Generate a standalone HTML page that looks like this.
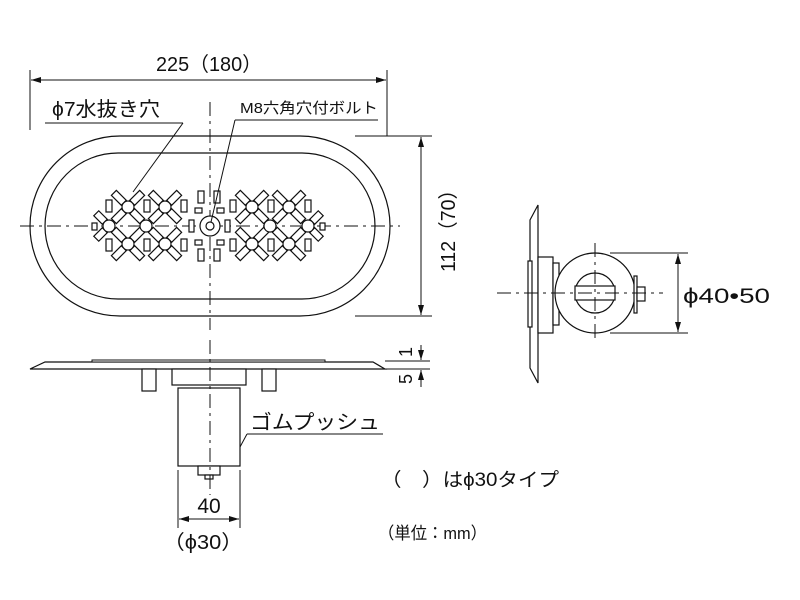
<!DOCTYPE html>
<html><head><meta charset="utf-8"><style>
html,body{margin:0;padding:0;background:#fff;}
svg{display:block;}
text{font-family:"Liberation Sans","Noto Sans CJK JP",sans-serif;fill:#111;}
</style></head><body>
<svg width="800" height="600" viewBox="0 0 800 600" xmlns="http://www.w3.org/2000/svg">
<defs>
<marker id="a" markerWidth="10" markerHeight="6" refX="10" refY="3" orient="auto-start-reverse" markerUnits="userSpaceOnUse"><path d="M0,0 L10,3 L0,6 Z" fill="#111"/></marker>
<g id="x">
<circle r="6" fill="#fff" stroke="#111" stroke-width="1.2"/>
<g fill="#fff" stroke="#111" stroke-width="1.2">
<rect x="6" y="-3.5" width="14" height="7" transform="rotate(45)"/>
<rect x="6" y="-3.5" width="14" height="7" transform="rotate(135)"/>
<rect x="6" y="-3.5" width="14" height="7" transform="rotate(225)"/>
<rect x="6" y="-3.5" width="14" height="7" transform="rotate(315)"/>
</g>
</g>
</defs>
<g fill="none" stroke="#111" stroke-width="1.2">
<rect x="30" y="136" width="360" height="180" rx="90" ry="90"/>
<rect x="45" y="153" width="330" height="146" rx="73" ry="73"/>
</g>
<g stroke="#111" stroke-width="1" stroke-dasharray="14,5,3,5" fill="none">
<line x1="20" y1="226" x2="400" y2="226"/>
<line x1="210" y1="102" x2="210" y2="330"/>
</g>
<use href="#x" x="128" y="207"/><use href="#x" x="165" y="207"/>
<use href="#x" x="128" y="244"/><use href="#x" x="165" y="244"/>
<use href="#x" x="252" y="207"/><use href="#x" x="289" y="207"/>
<use href="#x" x="252" y="244"/><use href="#x" x="289" y="244"/>
<g fill="#fff" stroke="#111" stroke-width="1.2">
<rect x="6" y="-3.5" width="12" height="7" transform="translate(109,226) rotate(225)"/>
<rect x="6" y="-3.5" width="12" height="7" transform="translate(109,226) rotate(135)"/>
<rect x="6" y="-3.5" width="12" height="7" transform="translate(308,226) rotate(315)"/>
<rect x="6" y="-3.5" width="12" height="7" transform="translate(308,226) rotate(45)"/>
<circle cx="109" cy="226" r="6"/><circle cx="146" cy="226" r="6"/>
<circle cx="270" cy="226" r="6"/><circle cx="308" cy="226" r="6"/>
<rect x="92" y="223" width="5" height="7"/><rect x="320" y="223" width="5" height="7"/>
<rect x="106" y="200" width="6" height="12"/><rect x="144" y="200" width="6" height="12"/><rect x="181" y="200" width="6" height="12"/>
<rect x="106" y="239" width="6" height="12"/><rect x="144" y="239" width="6" height="12"/><rect x="181" y="239" width="6" height="12"/>
<rect x="230" y="200" width="6" height="12"/><rect x="268" y="200" width="6" height="12"/><rect x="305" y="200" width="6" height="12"/>
<rect x="230" y="239" width="6" height="12"/><rect x="268" y="239" width="6" height="12"/><rect x="305" y="239" width="6" height="12"/>
<rect x="198" y="191" width="6" height="12"/><rect x="214" y="191" width="6" height="12"/>
<rect x="198" y="249" width="6" height="12"/><rect x="214" y="249" width="6" height="12"/>
<rect x="195" y="208" width="7" height="5"/><rect x="217" y="208" width="7" height="5"/>
<rect x="195" y="240" width="7" height="5"/><rect x="217" y="240" width="7" height="5"/>
<rect x="189" y="220" width="5" height="12"/><rect x="225" y="220" width="5" height="12"/>
<circle cx="210" cy="226" r="10"/>
<circle cx="210" cy="226" r="4"/>
</g>
<g stroke="#111" stroke-width="1" fill="none">
<line x1="30" y1="70" x2="30" y2="130"/>
<line x1="387" y1="70" x2="387" y2="136"/>
<line x1="31" y1="80" x2="386" y2="80" marker-start="url(#a)" marker-end="url(#a)"/>
<line x1="45" y1="123" x2="183" y2="123"/>
<line x1="183" y1="123" x2="133" y2="192"/>
<line x1="235" y1="120" x2="378" y2="120"/>
<line x1="235" y1="120" x2="211" y2="222"/>
<line x1="355" y1="136" x2="432" y2="136"/>
<line x1="355" y1="316" x2="432" y2="316"/>
<line x1="421" y1="137" x2="421" y2="315" marker-start="url(#a)" marker-end="url(#a)"/>
<line x1="385" y1="361" x2="430" y2="361"/>
<line x1="385" y1="369" x2="430" y2="369"/>
<line x1="421" y1="345" x2="421" y2="360" marker-end="url(#a)"/>
<line x1="421" y1="387" x2="421" y2="370" marker-end="url(#a)"/>
</g>
<g stroke="#111" stroke-width="1.2" fill="#fff">
<path d="M30,369 L45,362 L373,362 L385,369 Z"/>
<rect x="92" y="360" width="233" height="2" fill="#fff" stroke-width="1"/>
<rect x="142" y="369" width="14" height="22"/>
<rect x="262" y="369" width="14" height="22"/>
<rect x="172" y="369" width="74" height="16"/>
<rect x="178" y="388" width="62" height="78"/>
<rect x="198" y="466" width="22" height="9"/>
<rect x="205" y="475" width="8" height="4"/>
</g>
<line x1="210" y1="340" x2="210" y2="495" stroke="#111" stroke-width="1" stroke-dasharray="14,5,3,5"/>
<g stroke="#111" stroke-width="1" fill="none">
<line x1="247" y1="434" x2="383" y2="434"/>
<line x1="247" y1="434" x2="240" y2="447"/>
<line x1="178" y1="470" x2="178" y2="528"/>
<line x1="240" y1="470" x2="240" y2="528"/>
<line x1="179" y1="519" x2="239" y2="519" marker-start="url(#a)" marker-end="url(#a)"/>
</g>
<g stroke="#111" stroke-width="1.2" fill="#fff">
<path d="M530,220 L538,205 L538,383 L530,368 Z"/>
<rect x="528" y="261" width="4" height="66"/>
<rect x="538" y="257" width="15" height="76"/>
<rect x="553" y="263" width="6" height="62"/>
<circle cx="595" cy="293" r="40"/>
<circle cx="595" cy="293" r="20"/>
<rect x="575" y="286" width="40" height="14"/>
<rect x="634" y="276" width="3" height="37"/>
<rect x="637" y="287" width="8" height="14"/>
</g>
<g stroke="#111" stroke-width="1" fill="none">
<line x1="497" y1="293" x2="663" y2="293" stroke-dasharray="14,5,3,5"/>
<line x1="595" y1="243" x2="595" y2="343" stroke-dasharray="14,5,3,5"/>
<line x1="610" y1="253" x2="688" y2="253"/>
<line x1="610" y1="333" x2="688" y2="333"/>
<line x1="678" y1="254" x2="678" y2="332" marker-start="url(#a)" marker-end="url(#a)"/>
</g>
<text x="156" y="71" font-size="20" textLength="106" lengthAdjust="spacingAndGlyphs">225（180）</text>
<text x="52" y="116" font-size="20" textLength="108" lengthAdjust="spacingAndGlyphs">ϕ7水抜き穴</text>
<text x="240" y="113" font-size="15" textLength="138" lengthAdjust="spacingAndGlyphs">M8六角穴付ボルト</text>
<text x="0" y="0" font-size="20" textLength="92" lengthAdjust="spacingAndGlyphs" text-anchor="middle" transform="translate(455,226) rotate(-90)">112（70）</text>
<text x="0" y="0" font-size="18" text-anchor="middle" transform="translate(412,352) rotate(-90)">1</text>
<text x="0" y="0" font-size="18" text-anchor="middle" transform="translate(412,379) rotate(-90)">5</text>
<text x="250" y="429" font-size="20" textLength="130" lengthAdjust="spacingAndGlyphs">ゴムプッシュ</text>
<text x="209" y="513" font-size="21" text-anchor="middle">40</text>
<text x="163" y="549" font-size="20" textLength="80" lengthAdjust="spacingAndGlyphs">（ϕ30）</text>
<text x="683" y="303" font-size="21" textLength="87" lengthAdjust="spacingAndGlyphs">ϕ40•50</text>
<text x="381" y="486" font-size="19" textLength="178" lengthAdjust="spacingAndGlyphs">（　）はϕ30タイプ</text>
<text x="378" y="539" font-size="17" textLength="109" lengthAdjust="spacingAndGlyphs">（単位：mm）</text>
</svg>
</body></html>
